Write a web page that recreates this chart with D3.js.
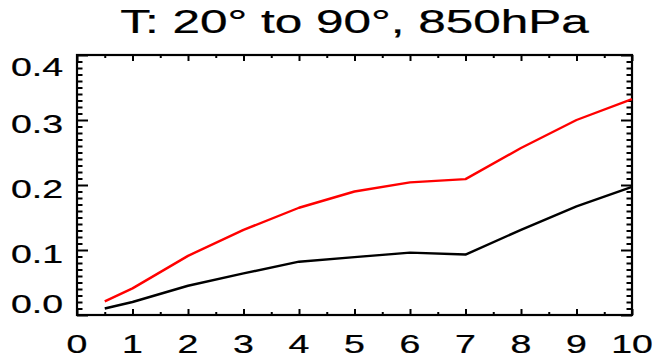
<!DOCTYPE html>
<html>
<head>
<meta charset="utf-8">
<script src="https://cdn.jsdelivr.net/npm/d3@7/dist/d3.min.js"></script>
<style>
  html, body { margin: 0; padding: 0; background: #fff; }
  svg { display: block; }
  text { font-family: "Liberation Sans", Arial, Helvetica, sans-serif; fill: #000; stroke: #000; stroke-width: 0.25; }
</style>
</head>
<body>
<svg id="chart" width="657" height="361"></svg>
<script>
// Lead times and the two curves
const leadTimes = [0.5, 1, 2, 3, 4, 5, 6, 7, 8, 9, 10];
const redSeries = [0.021, 0.041, 0.091, 0.131, 0.165, 0.190, 0.204, 0.209, 0.257, 0.300, 0.332];
const blackSeries = [0.010, 0.020, 0.045, 0.064, 0.082, 0.089, 0.096, 0.093, 0.131, 0.167, 0.197];

// Axis ticks and labels
const xMajorTicks = [0, 1, 2, 3, 4, 5, 6, 7, 8, 9, 10];
const xMinorTicks = [0.5, 1.5, 2.5, 3.5, 4.5, 5.5, 6.5, 7.5, 8.5, 9.5];
const yMajorTicks = [0.0, 0.1, 0.2, 0.3, 0.4];
const yTickLabels = ["0.0", "0.1", "0.2", "0.3", "0.4"];
const titleText = "T: 20\u00b0 to 90\u00b0, 850hPa";

const svg = d3.select("#chart");
const plotL = 77, plotR = 632, plotT = 55, plotB = 315;
const stretch = 1.5; // wide lettering

const x = d3.scaleLinear().domain([0, 10]).range([plotL, plotR]);
const y = d3.scaleLinear().domain([0, 0.4]).range([plotB, plotT]);

const yMinorTicks = d3.range(0, 41).map(i => i / 100).filter((v, i) => i % 10 !== 0);

// Tick marks on all four sides
function tickGroup(axis, tx, ty) {
  const g = svg.append("g").attr("transform", `translate(${tx},${ty})`).call(axis);
  g.select(".domain").remove();
  g.selectAll("line").attr("stroke", "#000").attr("stroke-width", 2);
  return g;
}
const xMaj = 6, xMin = 3, yMaj = 11, yMin = 5.5;
tickGroup(d3.axisTop(x).tickValues(xMajorTicks).tickSize(xMaj).tickFormat(""), 0, plotB);
tickGroup(d3.axisTop(x).tickValues(xMinorTicks).tickSize(xMin).tickFormat(""), 0, plotB);
tickGroup(d3.axisBottom(x).tickValues(xMajorTicks).tickSize(xMaj).tickFormat(""), 0, plotT);
tickGroup(d3.axisBottom(x).tickValues(xMinorTicks).tickSize(xMin).tickFormat(""), 0, plotT);
tickGroup(d3.axisRight(y).tickValues(yMajorTicks).tickSize(yMaj).tickFormat(""), plotL, 0);
tickGroup(d3.axisRight(y).tickValues(yMinorTicks).tickSize(yMin).tickFormat(""), plotL, 0);
tickGroup(d3.axisLeft(y).tickValues(yMajorTicks).tickSize(yMaj).tickFormat(""), plotR, 0);
tickGroup(d3.axisLeft(y).tickValues(yMinorTicks).tickSize(yMin).tickFormat(""), plotR, 0);

// Plot frame
svg.append("rect")
  .attr("x", plotL).attr("y", plotT)
  .attr("width", plotR - plotL).attr("height", plotB - plotT)
  .attr("fill", "none").attr("stroke", "#000").attr("stroke-width", 2.2);

// Curves
const line = d3.line().x((d, i) => x(leadTimes[i])).y(d => y(d));
svg.append("path").datum(blackSeries)
  .attr("d", line).attr("fill", "none").attr("stroke", "#000").attr("stroke-width", 2.4)
  .attr("stroke-linejoin", "round");
svg.append("path").datum(redSeries)
  .attr("d", line).attr("fill", "none").attr("stroke", "#ff0000").attr("stroke-width", 2.4)
  .attr("stroke-linejoin", "round");

// Y tick labels (end labels kept inside the frame height)
svg.append("g").selectAll("text").data(yMajorTicks).join("text")
  .attr("transform", d => {
    const base = Math.max(76, Math.min(313, y(d) + 13));
    return `translate(63,${base}) scale(${stretch},1)`;
  })
  .attr("text-anchor", "end")
  .attr("font-size", 25)
  .text((d, i) => yTickLabels[i]);

// X tick labels
svg.append("g").selectAll("text").data(xMajorTicks).join("text")
  .attr("transform", d => `translate(${x(d)},353) scale(${stretch},1)`)
  .attr("text-anchor", "middle")
  .attr("font-size", 25)
  .text(d => String(d));

// Title
svg.append("text")
  .attr("transform", `translate(${(plotL + plotR) / 2},33) scale(${stretch},1)`)
  .attr("text-anchor", "middle")
  .attr("font-size", 33)
  .text(titleText);
</script>
</body>
</html>
